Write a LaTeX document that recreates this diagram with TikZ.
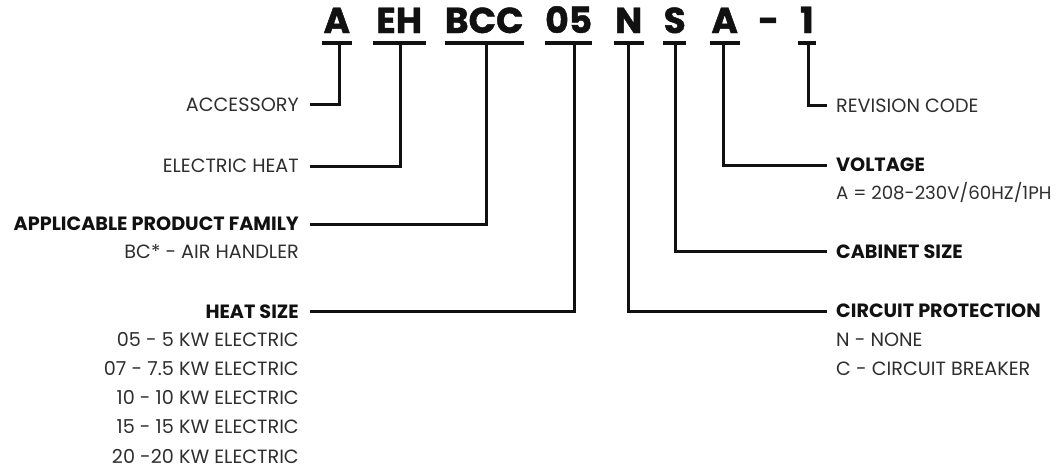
\documentclass[tikz,border=0pt]{standalone}
\usepackage{fontspec}
\setmainfont{Poppins}
\newfontfamily\codefont[BoldFeatures={FakeBold=1.2}]{Poppins}
\usetikzlibrary{positioning}
\definecolor{ink}{HTML}{111111}
\definecolor{textgray}{HTML}{2E2E2E}
\tikzset{
  codechar/.style={font=\codefont\fontsize{36}{36}\selectfont\bfseries,text=ink,inner xsep=0pt,inner ysep=0pt,anchor=base},
  codebar/.style={line width=4pt,draw=ink},
  link/.style={line width=3pt,draw=ink},
  lbl/.style={font=\fontsize{19.2}{19.2}\selectfont,text=textgray,inner sep=0pt,text height=13.4pt,text depth=0pt},
  lblhead/.style={lbl,font=\fontsize{19.2}{19.2}\selectfont\bfseries,text=ink},
}

\begin{document}
\begin{tikzpicture}[x=1pt,y=-1pt]
  \useasboundingbox (0,0) rectangle (1061,469);

  % model number
  \node[codechar,minimum width=29pt] (cA) at (336.8,33) {A};
  \node[codechar,minimum width=53pt] (cEH) at (399.2,33) {EH};
  \node[codechar,minimum width=77pt] (cBCC) at (484.2,33) {BCC};
  \node[codechar,minimum width=44pt] (c05) at (568.7,33) {05};
  \node[codechar,minimum width=29.3pt] (cN) at (628.7,33) {N};
  \node[codechar,minimum width=17.3pt] (cS) at (674.7,33) {S};
  \node[codechar,minimum width=29.3pt] (cV) at (724.7,33) {A};
  \node[codechar] (cDash) at (768.7,33) {-};
  \node[codechar,minimum width=18.3pt] (cOne) at (806.9,33) {1};
  \foreach \c in {cA,cEH,cBCC,c05,cN,cS,cV,cOne}
    \draw[codebar] ([yshift=-10pt]\c.base west) -- ([yshift=-10pt]\c.base east);

  \coordinate (tA) at (339,43);
  \coordinate (tEH) at (400,43);
  \coordinate (tBCC) at (486,43);
  \coordinate (t05) at (574,43);
  \coordinate (tN) at (628,43);
  \coordinate (tS) at (675,43);
  \coordinate (tV) at (723.5,43);
  \coordinate (tOne) at (808,43);

  % left side
  \node[lbl,anchor=east] (acc) at (299,104.5) {ACCESSORY};
  \node[lbl,anchor=east] (elec) at (299,166) {ELECTRIC HEAT};
  \node[lblhead,anchor=east] (fam) at (299,224) {APPLICABLE PRODUCT FAMILY};
  \node[lbl,anchor=east] (famA) at (299,251.5) {BC* - AIR HANDLER};
  \node[lblhead,anchor=east] (heat) at (299,311.5) {HEAT SIZE};
  \node[lbl,anchor=east] (h05) at (299,340) {05 - 5 KW ELECTRIC};
  \node[lbl,anchor=east] (h07) at (299,369) {07 - 7.5 KW ELECTRIC};
  \node[lbl,anchor=east] (h10) at (299,398) {10 - 10 KW ELECTRIC};
  \node[lbl,anchor=east] (h15) at (299,427) {15 - 15 KW ELECTRIC};
  \node[lbl,anchor=east] (h20) at (299,456.5) {20 -20 KW ELECTRIC};

  % right side
  \node[lbl,anchor=west] (rev) at (836,105.5) {REVISION CODE};
  \node[lblhead,anchor=west] (volt) at (836,165) {VOLTAGE};
  \node[lbl,anchor=west,font=\fontsize{18.2}{18.2}\selectfont] (voltA) at (836,192.3) {A = 208-230V/60HZ/1PH};
  \node[lblhead,anchor=west] (cab) at (836,251.7) {CABINET SIZE};
  \node[lblhead,anchor=west] (prot) at (836,311) {CIRCUIT PROTECTION};
  \node[lbl,anchor=west] (protN) at (836,340) {N - NONE};
  \node[lbl,anchor=west] (protC) at (836,369) {C - CIRCUIT BREAKER};

  \draw[link] ([xshift=11pt]acc.east) -| (tA);
  \draw[link] ([xshift=11pt]elec.east) -| (tEH);
  \draw[link] ([xshift=11pt]fam.east) -| (tBCC);
  \draw[link] ([xshift=11pt]heat.east) -| (t05);
  \draw[link] ([xshift=-9pt]prot.west) -| (tN);
  \draw[link] ([xshift=-9pt]cab.west) -| (tS);
  \draw[link] ([xshift=-9pt]volt.west) -| (tV);
  \draw[link] ([xshift=-9pt]rev.west) -| (tOne);
\end{tikzpicture}
\end{document}
